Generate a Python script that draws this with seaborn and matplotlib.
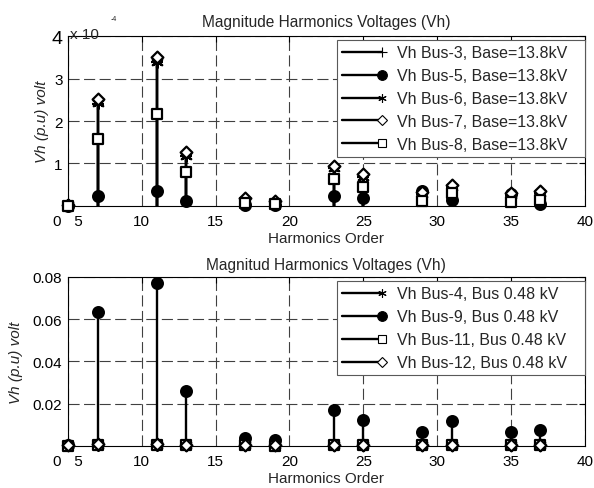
import numpy as np
import pandas as pd
import seaborn as sns
import matplotlib.pyplot as plt
from matplotlib.lines import Line2D
from matplotlib.legend_handler import HandlerLine2DCompound

# harmonic orders (6k +/- 1)
harmonics = [5, 7, 11, 13, 17, 19, 23, 25, 29, 31, 35, 37]

# 13.8 kV buses, values in units of 1e-4 p.u.
vh_bus3 = [0.02, 2.40, 3.38, 1.17, 0.15, 0.10, 0.90, 0.68, 0.28, 0.45, 0.25, 0.30]
vh_bus5 = [0.01, 0.24, 0.36, 0.12, 0.03, 0.02, 0.24, 0.18, 0.35, 0.15, 0.28, 0.05]
vh_bus6 = [0.02, 2.42, 3.40, 1.18, 0.15, 0.10, 0.90, 0.68, 0.28, 0.45, 0.25, 0.30]
vh_bus7 = [0.02, 2.52, 3.50, 1.26, 0.18, 0.12, 0.95, 0.75, 0.32, 0.50, 0.30, 0.35]
vh_bus8 = [0.01, 1.58, 2.16, 0.80, 0.08, 0.05, 0.64, 0.45, 0.12, 0.30, 0.10, 0.15]

# 0.48 kV buses, p.u.
vh_bus4 = [0.0003, 0.0006, 0.0006, 0.0005, 0.0004, 0.0003, 0.0005, 0.0005, 0.0004, 0.0004, 0.0004, 0.0004]
vh_bus9 = [0.0004, 0.0633, 0.0770, 0.0262, 0.0040, 0.0030, 0.0171, 0.0124, 0.0067, 0.0119, 0.0067, 0.0076]
vh_bus11 = [0.0002, 0.0004, 0.0004, 0.0003, 0.0003, 0.0002, 0.0003, 0.0003, 0.0003, 0.0003, 0.0003, 0.0003]
vh_bus12 = [0.0005, 0.0008, 0.0008, 0.0007, 0.0006, 0.0005, 0.0007, 0.0007, 0.0006, 0.0006, 0.0006, 0.0006]

x_ticks = [5, 10, 15, 20, 25, 30, 35, 40]
# the first label in the original reads "0 5" (y zero and x five run together)
x_ticklabels = ["0   5", "10", "15", "20", "25", "30", "35", "40"]

top_labels = ["Vh Bus-3, Base=13.8kV", "Vh Bus-5, Base=13.8kV", "Vh Bus-6, Base=13.8kV",
              "Vh Bus-7, Base=13.8kV", "Vh Bus-8, Base=13.8kV"]
bottom_labels = ["Vh Bus-4, Bus 0.48 kV", "Vh Bus-9, Bus 0.48 kV",
                 "Vh Bus-11, Bus 0.48 kV", "Vh Bus-12, Bus 0.48 kV"]

ASTERISK = (6, 2, 0)
# marker, face colour, scatter size, filled?
STYLE = {
    "+": ("+", "k", 70, False),
    "o": ("o", "k", 60, True),
    "*": (ASTERISK, "k", 60, False),
    "D": ("D", "white", 36, True),
    "s": ("s", "white", 42, True),
}


class StemHandler(HandlerLine2DCompound):
    """Legend entry like MATLAB stem: line with the marker at its right end."""
    def create_artists(self, legend, orig_handle, xdescent, ydescent,
                       width, height, fontsize, trans):
        arts = super().create_artists(legend, orig_handle, xdescent, ydescent,
                                      width, height, fontsize, trans)
        arts[1].set_xdata([-xdescent + width])
        return arts


def stem_series(ax, values, key):
    marker, face, size, filled = STYLE[key]
    df = pd.DataFrame({"h": harmonics, "v": values})
    ax.vlines(df["h"], 0, df["v"], color="k", lw=1.7, zorder=2)
    kw = {"edgecolor": "k"} if filled else {}
    sns.scatterplot(data=df, x="h", y="v", marker=marker, s=size, color=face,
                    linewidth=1.6, ax=ax, zorder=3, legend=False,
                    clip_on=False, **kw)


def legend_handle(key):
    marker, face, _, _ = STYLE[key]
    ms = {"+": 7, "o": 7, "*": 6, "D": 5, "s": 6}[key]
    return Line2D([0], [0], color="k", lw=1.7, marker=marker, markersize=ms,
                  markerfacecolor=face, markeredgecolor="k", markeredgewidth=0.8)


def style_axes(ax):
    ax.set_xlim(5, 40)
    ax.set_xticks(x_ticks)
    ax.set_xticklabels(x_ticklabels)
    ax.grid(True, color="0.25", lw=0.8, linestyle=(0, (10, 4)))
    ax.set_axisbelow(True)
    ax.tick_params(direction="in", top=True, right=True, length=4, width=0.8,
                   labelsize=11, colors="k")
    ax.tick_params(axis="x", pad=6)
    ax.tick_params(axis="y", pad=4)
    for sp in ax.spines.values():
        sp.set_color("k")
        sp.set_linewidth(0.8)
    ax.set_xlabel("Harmonics Order", fontsize=11, labelpad=2)
    ax.set_ylabel("Vh (p.u) volt", fontsize=11, style="italic")


def make_legend(ax, keys, labels, top):
    handles = [legend_handle(k) for k in keys]
    leg = ax.legend(handles, labels, loc="upper left",
                    bbox_to_anchor=(0.5203, 0.0, 0.4797, top), mode="expand",
                    borderaxespad=0, fontsize=11.5, handlelength=2.5,
                    handletextpad=0.95, labelspacing=0.5, borderpad=0.32,
                    fancybox=False, framealpha=1, edgecolor="0.35",
                    handler_map={Line2D: StemHandler(numpoints=1)})
    leg.get_frame().set_linewidth(0.8)
    return leg


def main():
    sns.set_style("white")
    plt.rcParams["font.family"] = ["Liberation Sans", "DejaVu Sans"]

    fig = plt.figure(figsize=(5.94, 4.89), dpi=100)
    ax1 = fig.add_axes([0.1145, 0.5767, 0.870, 0.3476])
    ax2 = fig.add_axes([0.1145, 0.0859, 0.870, 0.3456])

    # top: 13.8 kV buses
    top_series = [(vh_bus3, "+"), (vh_bus5, "o"), (vh_bus6, "*"),
                  (vh_bus7, "D"), (vh_bus8, "s")]
    for vals, key in top_series:
        stem_series(ax1, vals, key)
    style_axes(ax1)
    ax1.set_ylim(0, 4)
    ax1.set_yticks([1, 2, 3, 4])
    ax1.set_yticklabels(["1", "2", "3", "4"])
    ax1.get_yticklabels()[-1].set_fontsize(14)
    ax1.set_title("Magnitude Harmonics Voltages (Vh)", fontsize=11.2, pad=7)
    ax1.yaxis.set_label_coords(-0.037, 0.5)
    ax1.text(0.004, 1.012, "x 10", transform=ax1.transAxes, ha="left",
             va="center", fontsize=11)
    ax1.text(0.083, 1.105, "-4", transform=ax1.transAxes, ha="left",
             va="center", fontsize=5)
    make_legend(ax1, [k for _, k in top_series], top_labels, 0.9765)

    # bottom: 0.48 kV buses
    bottom_series = [(vh_bus4, "*"), (vh_bus9, "o"), (vh_bus11, "s"), (vh_bus12, "D")]
    for vals, key in bottom_series:
        stem_series(ax2, vals, key)
    style_axes(ax2)
    ax2.set_ylim(0, 0.08)
    ax2.set_yticks([0.02, 0.04, 0.06, 0.08])
    ax2.set_yticklabels(["0.02", "0.04", "0.06", "0.08"])
    ax2.set_title("Magnitud Harmonics Voltages (Vh)", fontsize=11.2, pad=6)
    ax2.yaxis.set_label_coords(-0.087, 0.5)
    make_legend(ax2, [k for _, k in bottom_series], bottom_labels, 0.976)

    fig.savefig("out.png", dpi=100, facecolor="white")
    plt.close(fig)


if __name__ == "__main__":
    main()
